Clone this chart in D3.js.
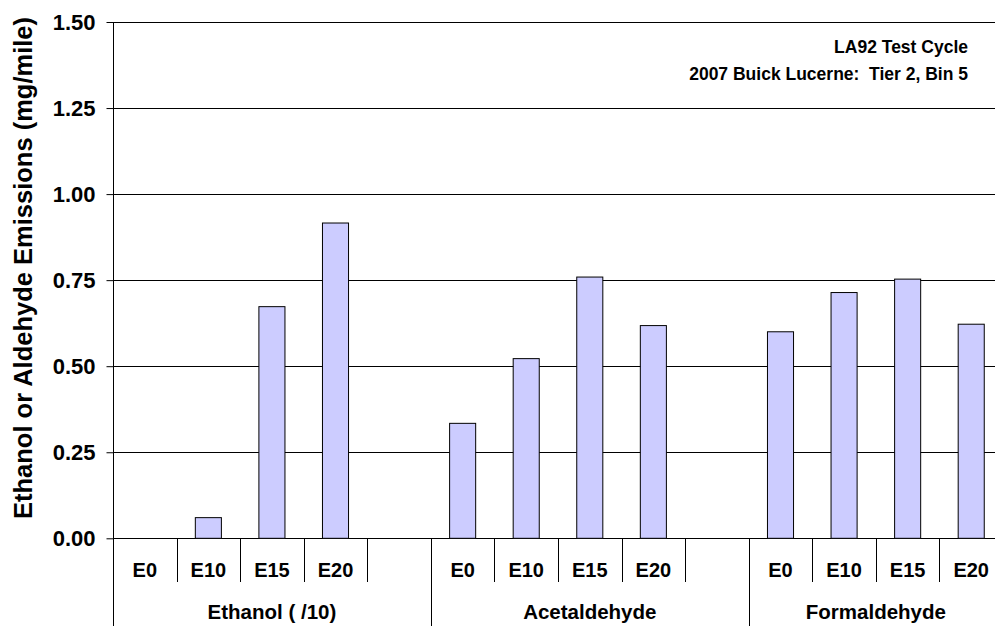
<!DOCTYPE html>
<html>
<head>
<meta charset="utf-8">
<script src="https://cdn.jsdelivr.net/npm/d3@7"></script>
<style>
  html, body { margin: 0; padding: 0; background: #fff; }
  svg { display: block; font-family: "Liberation Sans", Arial, sans-serif; font-weight: bold; }
  text { white-space: pre; }
</style>
</head>
<body>
<script>
// ---- data ----
const groups = ["Ethanol ( /10)", "Acetaldehyde", "Formaldehyde"];
const fuels = ["E0", "E10", "E15", "E20"];
const ethanol = [0, 0.060, 0.673, 0.916];
const acetaldehyde = [0.334, 0.522, 0.759, 0.618];
const formaldehyde = [0.600, 0.714, 0.753, 0.622];
const yTicks = [0, 0.25, 0.5, 0.75, 1.0, 1.25, 1.5];
const yTitle = "Ethanol or Aldehyde Emissions (mg/mile)";
const noteLines = ["LA92 Test Cycle", "2007 Buick Lucerne:  Tier 2, Bin 5"];

(function () {
// build slots: 4 fuels per group, blank slot between groups
const seriesByGroup = [ethanol, acetaldehyde, formaldehyde];
const slots = [];
groups.forEach((g, gi) => {
  fuels.forEach((f, fi) => slots.push({ group: gi, label: f, value: seriesByGroup[gi][fi] }));
  if (gi < groups.length - 1) slots.push({ group: gi, label: "", value: null });
});

const W = 995, H = 626;
const mLeft = 113, mRight = 1003, mTop = 22, mBottom = 538.3;

const svg = d3.select("body").append("svg").attr("width", W).attr("height", H);

const x = d3.scaleBand().domain(d3.range(slots.length)).range([mLeft, mRight]).padding(0);
const y = d3.scaleLinear().domain([0, 1.5]).range([mBottom, mTop]);

// gridlines
svg.append("g").selectAll("line").data(yTicks).join("line")
  .attr("x1", mLeft).attr("x2", mRight)
  .attr("y1", d => Math.round(y(d)) + 0.5).attr("y2", d => Math.round(y(d)) + 0.5)
  .attr("stroke", "#000").attr("stroke-width", 1);

// bars
const bw = x.bandwidth() * 0.41;
svg.append("g").selectAll("rect").data(slots.filter(s => s.value !== null && s.value > 0)).join("rect")
  .attr("x", (d) => x(slots.indexOf(d)) + (x.bandwidth() - bw) / 2)
  .attr("width", bw)
  .attr("y", d => y(d.value))
  .attr("height", d => y(0) - y(d.value))
  .attr("fill", "#CCCCFF")
  .attr("stroke", "#000")
  .attr("stroke-width", 1);

// y axis
const yAxis = d3.axisLeft(y).tickValues(yTicks).tickFormat(d3.format(".2f")).tickSizeInner(7).tickSizeOuter(0).tickPadding(11);
const ya = svg.append("g").attr("transform", `translate(${mLeft + 0.5},0)`).call(yAxis);
ya.select(".domain").remove();
ya.selectAll(".tick line").attr("stroke", "#000");
ya.selectAll(".tick text").attr("font-size", 22).attr("font-weight", "bold").attr("fill", "#000")
  .attr("font-family", "Liberation Sans, Arial, sans-serif");

// y axis line extends to the bottom of the category area
svg.append("line").attr("x1", mLeft + 0.5).attr("x2", mLeft + 0.5).attr("y1", mTop).attr("y2", H)
  .attr("stroke", "#000");

// category dividers
const bounds = d3.range(1, slots.length + 1);
svg.append("g").selectAll("line").data(bounds).join("line")
  .attr("x1", i => Math.round(x(i - 1) + x.bandwidth()) + 0.5)
  .attr("x2", i => Math.round(x(i - 1) + x.bandwidth()) + 0.5)
  .attr("y1", mBottom)
  .attr("y2", i => (i % 5 === 0) ? H : 582)
  .attr("stroke", "#000");

// category labels
svg.append("g").selectAll("text").data(slots.filter(s => s.label)).join("text")
  .attr("x", d => x(slots.indexOf(d)) + x.bandwidth() / 2)
  .attr("y", 577)
  .attr("text-anchor", "middle")
  .attr("font-size", 20)
  .text(d => d.label);

// group labels
svg.append("g").selectAll("text").data(groups).join("text")
  .attr("x", (g, gi) => {
    const idx = slots.map((s, i) => s.group === gi ? i : -1).filter(i => i >= 0);
    const a = x(idx[0]), b = x(idx[idx.length - 1]) + x.bandwidth();
    return (a + b) / 2;
  })
  .attr("y", 619)
  .attr("text-anchor", "middle")
  .attr("font-size", 20.5)
  .text(d => d);

// y title
svg.append("text")
  .attr("transform", `translate(32,268) rotate(-90)`)
  .attr("text-anchor", "middle")
  .attr("font-size", 25.5)
  .text(yTitle);

// note
svg.append("g").selectAll("text").data(noteLines).join("text")
  .attr("x", 968)
  .attr("y", (d, i) => 53 + i * 27)
  .attr("text-anchor", "end")
  .attr("font-size", 17.5)
  .text(d => d);
})();
</script>
</body>
</html>
